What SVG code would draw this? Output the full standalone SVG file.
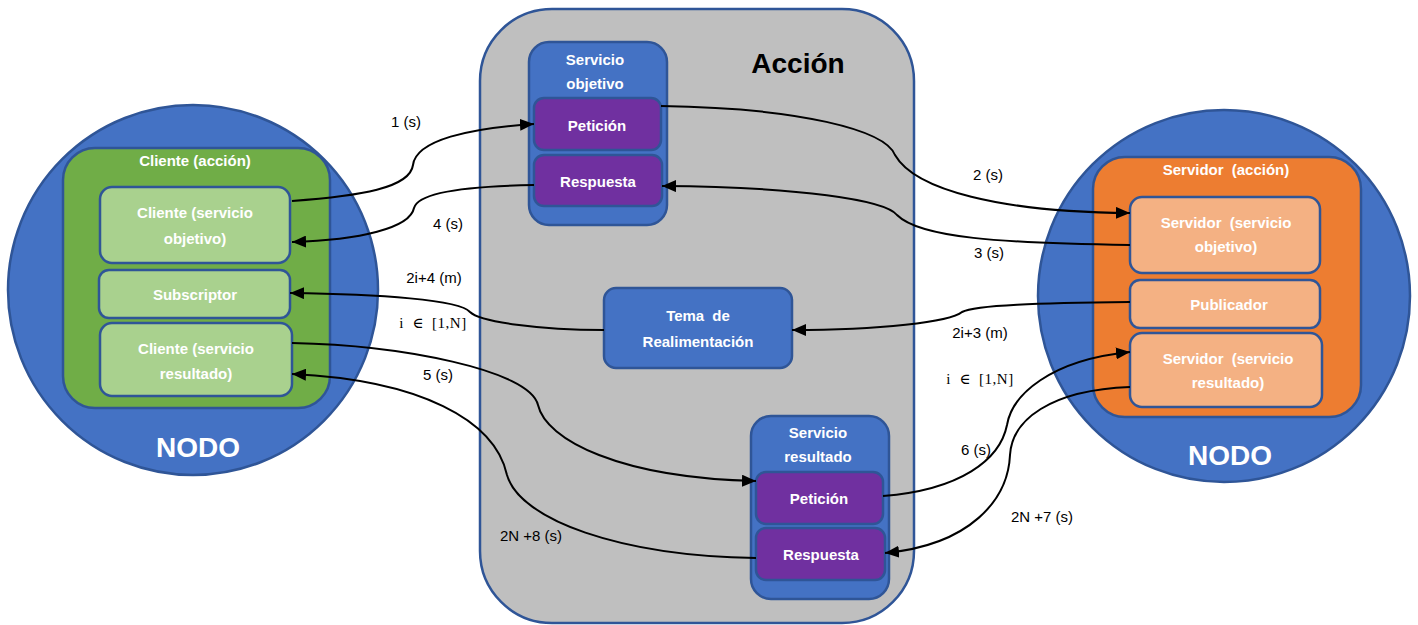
<svg xmlns="http://www.w3.org/2000/svg" width="1418" height="625" viewBox="0 0 1418 625">
<defs>
<marker id="arr" markerUnits="userSpaceOnUse" markerWidth="14" markerHeight="12" refX="14" refY="6" orient="auto"><path d="M0,0 L14,6 L0,12 z" fill="#000"/></marker>
<style>
.node{fill:#4472C4;stroke:#2F5597;stroke-width:2.5}
.box{stroke:#2F5597;stroke-width:2.5}
.g{fill:#70AD47}.lg{fill:#A9D18E}.o{fill:#ED7D31}.lo{fill:#F4B183}.b{fill:#4472C4}.p{fill:#7030A0}
.t{font-family:"Liberation Sans",Arial,sans-serif;font-weight:bold;font-size:15px;fill:#fff;text-anchor:middle}
.big{font-family:"Liberation Sans",Arial,sans-serif;font-weight:bold;font-size:28px;text-anchor:middle}
.lab{font-family:"Liberation Sans",Arial,sans-serif;font-size:15px;fill:#000;text-anchor:middle}
.math{font-family:"Liberation Serif","DejaVu Serif",serif;font-size:15px;fill:#000;text-anchor:middle;word-spacing:4px;letter-spacing:0.5px}
.c{fill:none;stroke:#000;stroke-width:2;marker-end:url(#arr)}
</style>
</defs>
<rect width="1418" height="625" fill="#fff"/>

<g id="accion">
<rect x="480" y="9" width="434" height="614" rx="72" fill="#BFBFBF" stroke="#2F5597" stroke-width="2.5"/>
<text class="big" x="798" y="73" fill="#000">Acción</text>
</g>

<g id="nodo-cliente">
<circle class="node" cx="193" cy="290" r="185"/>
<rect class="box g" x="63" y="148" width="267" height="260" rx="32"/>
<text class="t" x="195" y="166" font-size="14">Cliente (acción)</text>
<text class="big" x="198" y="457" fill="#fff">NODO</text>
</g>
<g id="cliente-objetivo">
<rect class="box lg" x="100" y="187" width="190" height="76" rx="12"/>
<text class="t" x="195" y="218">Cliente (servicio</text>
<text class="t" x="195" y="244">objetivo)</text>
</g>
<g id="subscriptor">
<rect class="box lg" x="99" y="270" width="191" height="48" rx="10"/>
<text class="t" x="195" y="300">Subscriptor</text>
</g>
<g id="cliente-resultado">
<rect class="box lg" x="100" y="323" width="192" height="73" rx="12"/>
<text class="t" x="196" y="354">Cliente (servicio</text>
<text class="t" x="196" y="379">resultado)</text>
</g>

<g id="nodo-servidor">
<circle class="node" cx="1224" cy="296" r="186"/>
<rect class="box o" x="1093" y="157" width="268" height="260" rx="32"/>
<text class="t" x="1226" y="175" font-size="14" word-spacing="4">Servidor (acción)</text>
<text class="big" x="1230" y="465" fill="#fff">NODO</text>
</g>
<g id="servidor-objetivo">
<rect class="box lo" x="1130" y="197" width="190" height="76" rx="12"/>
<text class="t" x="1226" y="228" word-spacing="4">Servidor (servicio</text>
<text class="t" x="1226" y="252">objetivo)</text>
</g>
<g id="publicador">
<rect class="box lo" x="1130" y="280" width="190" height="48" rx="10"/>
<text class="t" x="1229" y="310">Publicador</text>
</g>
<g id="servidor-resultado">
<rect class="box lo" x="1130" y="333" width="192" height="74" rx="12"/>
<text class="t" x="1228" y="364" word-spacing="4">Servidor (servicio</text>
<text class="t" x="1228" y="388">resultado)</text>
</g>

<g id="servicio-objetivo">
<rect class="box b" x="529" y="42" width="138" height="183" rx="20"/>
<text class="t" x="595" y="65" font-size="14">Servicio</text>
<text class="t" x="595" y="89" font-size="14">objetivo</text>
</g>
<g id="peticion-objetivo">
<rect class="box p" x="534" y="98" width="127" height="52" rx="10"/>
<text class="t" x="597" y="131">Petición</text>
</g>
<g id="respuesta-objetivo">
<rect class="box p" x="534" y="155" width="128" height="51" rx="10"/>
<text class="t" x="598" y="187">Respuesta</text>
</g>

<g id="tema">
<rect class="box b" x="604" y="288" width="188" height="80" rx="12"/>
<text class="t" x="698" y="321" font-size="14" word-spacing="4">Tema de</text>
<text class="t" x="698" y="347" font-size="14">Realimentación</text>
</g>

<g id="servicio-resultado">
<rect class="box b" x="751" y="416" width="138" height="183" rx="20"/>
<text class="t" x="818" y="438" font-size="14">Servicio</text>
<text class="t" x="818" y="462" font-size="14">resultado</text>
</g>
<g id="peticion-resultado">
<rect class="box p" x="756" y="472" width="127" height="52" rx="10"/>
<text class="t" x="819" y="504">Petición</text>
</g>
<g id="respuesta-resultado">
<rect class="box p" x="756" y="528" width="129" height="52" rx="10"/>
<text class="t" x="821" y="560">Respuesta</text>
</g>

<g id="connectors">
<path class="c" d="M292,201 C360,196 410,188 413,165 C416,140 470,128 534,124"/>
<path class="c" d="M534,185 C470,186 418,192 414,208 C410,228 360,240 292,242"/>
<path class="c" d="M661,106 C800,108 885,130 895,155 C915,190 1000,212 1130,213"/>
<path class="c" d="M1130,245 C1000,243 920,238 897,215 C885,200 800,187 662,186"/>
<path class="c" d="M1130,302 C1040,303 975,305 962,312 C950,322 880,330 792,330"/>
<path class="c" d="M604,330 C540,330 480,322 470,312 C460,300 380,294 290,293"/>
<path class="c" d="M292,343 C400,345 530,370 538,405 C546,440 620,478 756,481"/>
<path class="c" d="M756,558 C620,556 520,520 507,475 C495,420 420,380 292,374"/>
<path class="c" d="M883,496 C960,490 1000,460 1007,425 C1012,395 1050,360 1130,352"/>
<path class="c" d="M1130,387 C1050,390 1012,420 1010,455 C1008,500 970,545 885,553"/>
</g>

<g id="labels">
<text class="lab" x="406" y="127">1 (s)</text>
<text class="lab" x="448" y="229">4 (s)</text>
<text class="lab" x="434" y="283">2i+4 (m)</text>
<text class="math" x="433" y="328">i ∈ [1,N]</text>
<text class="lab" x="438" y="380">5 (s)</text>
<text class="lab" x="988" y="180">2 (s)</text>
<text class="lab" x="989" y="258">3 (s)</text>
<text class="lab" x="980" y="338">2i+3 (m)</text>
<text class="math" x="980" y="384">i ∈ [1,N]</text>
<text class="lab" x="976" y="455">6 (s)</text>
<text class="lab" x="1042" y="522">2N +7 (s)</text>
<text class="lab" x="531" y="541">2N +8 (s)</text>
</g>
</svg>
